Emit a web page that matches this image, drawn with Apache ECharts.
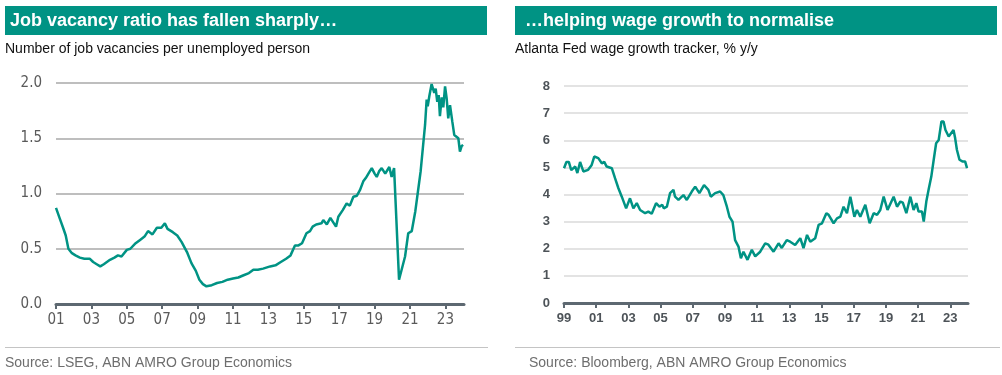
<!DOCTYPE html>
<html>
<head>
<meta charset="utf-8">
<script src="https://cdn.jsdelivr.net/npm/echarts@6/dist/echarts.min.js"></script>
<style>
  html, body { margin: 0; padding: 0; background: #fff; }
  #chart { width: 1002px; height: 375px; }
</style>
</head>
<body>
<div id="chart"></div>
<script>
// left panel: job vacancies per unemployed person (decimal years)
var vacYears = [
  2001.0, 2001.2, 2001.4, 2001.55, 2001.7, 2001.9, 2002.1, 2002.35, 2002.6, 2002.9,
  2003.1, 2003.3, 2003.5, 2003.7, 2004.05, 2004.3, 2004.5, 2004.7, 2005.0, 2005.2,
  2005.5, 2005.75, 2006.0, 2006.2, 2006.45, 2006.7, 2006.95, 2007.15, 2007.3, 2007.6,
  2007.85, 2008.1, 2008.4, 2008.65, 2008.9, 2009.1, 2009.3, 2009.5, 2009.8, 2010.1,
  2010.4, 2010.7, 2011.0, 2011.3, 2011.6, 2011.9, 2012.15, 2012.4, 2012.7, 2013.1,
  2013.4, 2013.7, 2014.0, 2014.25, 2014.5, 2014.7, 2014.9, 2015.15, 2015.35, 2015.5,
  2015.7, 2016.0, 2016.1, 2016.3, 2016.5, 2016.7, 2016.82, 2016.95, 2017.2, 2017.42,
  2017.6, 2017.8, 2018.0, 2018.17, 2018.36, 2018.5, 2018.65, 2018.84, 2019.0, 2019.12,
  2019.25, 2019.4, 2019.6, 2019.83, 2019.96, 2020.1, 2020.2, 2020.38, 2020.72, 2020.9,
  2021.1, 2021.3, 2021.45, 2021.6, 2021.85, 2021.94, 2022.0, 2022.09, 2022.22, 2022.37,
  2022.45, 2022.54, 2022.62, 2022.69, 2022.79, 2022.88, 2022.98, 2023.07, 2023.16, 2023.26,
  2023.39, 2023.5, 2023.73, 2023.82, 2023.92, 2024.0
];
var vacRatio = [
  0.87, 0.78, 0.69, 0.62, 0.50, 0.46, 0.44, 0.42, 0.41, 0.41,
  0.38, 0.36, 0.34, 0.36, 0.40, 0.42, 0.44, 0.43, 0.49, 0.50,
  0.55, 0.58, 0.61, 0.66, 0.63, 0.69, 0.69, 0.73, 0.68, 0.65,
  0.62, 0.56, 0.47, 0.37, 0.30, 0.22, 0.18, 0.16, 0.17, 0.19,
  0.20, 0.22, 0.23, 0.24, 0.26, 0.28, 0.31, 0.31, 0.32, 0.34,
  0.35, 0.38, 0.41, 0.44, 0.53, 0.53, 0.55, 0.64, 0.66, 0.70,
  0.72, 0.73, 0.76, 0.72, 0.78, 0.73, 0.70, 0.79, 0.85, 0.91,
  0.89, 0.97, 0.98, 1.03, 1.11, 1.14, 1.18, 1.23, 1.18, 1.15,
  1.20, 1.23, 1.18, 1.24, 1.15, 1.23, 1.22, 0.22, 0.43, 0.64,
  0.66, 0.84, 1.02, 1.20, 1.62, 1.85, 1.79, 1.88, 1.99, 1.91,
  1.95, 1.83, 1.89, 1.70, 1.87, 1.78, 1.97, 1.86, 1.68, 1.80,
  1.65, 1.53, 1.50, 1.38, 1.43, 1.44
];

// right panel: Atlanta Fed wage growth tracker, % y/y
var wageYears = [
  1999.0, 1999.15, 1999.3, 1999.45, 1999.55, 1999.7, 1999.83, 2000.0, 2000.2, 2000.5,
  2000.72, 2000.88, 2001.0, 2001.13, 2001.35, 2001.5, 2001.65, 2001.97, 2002.17, 2002.38,
  2002.59, 2002.86, 2003.1, 2003.31, 2003.52, 2003.73, 2004.04, 2004.24, 2004.45, 2004.72,
  2004.93, 2005.1, 2005.2, 2005.39, 2005.59, 2005.8, 2005.9, 2006.11, 2006.42, 2006.63,
  2006.94, 2007.15, 2007.41, 2007.7, 2007.97, 2008.12, 2008.39, 2008.7, 2008.9, 2009.12,
  2009.28, 2009.47, 2009.63, 2009.84, 2009.99, 2010.15, 2010.26, 2010.4, 2010.67, 2010.88,
  2011.19, 2011.5, 2011.7, 2012.02, 2012.33, 2012.53, 2012.84, 2013.05, 2013.36, 2013.68,
  2013.88, 2014.1, 2014.3, 2014.61, 2014.82, 2015.03, 2015.3, 2015.44, 2015.75, 2015.96,
  2016.17, 2016.37, 2016.58, 2016.79, 2017.04, 2017.2, 2017.41, 2017.72, 2017.99, 2018.24,
  2018.45, 2018.65, 2018.86, 2019.1, 2019.48, 2019.69, 2019.9, 2020.05, 2020.27, 2020.52,
  2020.72, 2020.89, 2021.03, 2021.24, 2021.35, 2021.51, 2021.66, 2021.82, 2021.97, 2022.12,
  2022.28, 2022.45, 2022.58, 2022.7, 2022.8, 2022.9, 2023.0, 2023.2, 2023.3, 2023.41,
  2023.5, 2023.57, 2023.75, 2023.92, 2024.04
];
var wageGrowth = [
  4.97, 5.2, 5.2, 4.9, 4.85, 5.03, 4.79, 5.2, 4.85, 4.91,
  5.09, 5.40, 5.38, 5.34, 5.15, 5.2, 5.03, 4.97, 4.6, 4.23,
  3.92, 3.49, 3.86, 3.49, 3.68, 3.43, 3.31, 3.37, 3.29, 3.68,
  3.55, 3.62, 3.49, 3.55, 4.05, 4.17, 3.92, 3.80, 3.98, 3.80,
  4.11, 4.29, 4.05, 4.35, 4.17, 3.92, 4.05, 4.11, 3.98, 3.55,
  3.18, 3.0, 2.32, 2.08, 1.65, 1.89, 1.87, 1.59, 1.96, 1.72,
  1.89, 2.20, 2.15, 1.89, 2.2, 2.03, 2.32, 2.26, 2.14, 2.39,
  2.02, 2.51, 2.26, 2.39, 2.88, 2.94, 3.31, 3.25, 2.94, 3.12,
  3.18, 3.55, 3.31, 3.92, 3.18, 3.43, 3.18, 3.62, 2.94, 3.31,
  3.25, 3.43, 3.92, 3.43, 3.92, 3.55, 3.74, 3.7, 3.31, 3.92,
  3.43, 3.68, 3.37, 3.37, 3.0, 3.74, 4.20, 4.66, 5.28, 5.89,
  6.01, 6.69, 6.69, 6.38, 6.40, 6.14, 6.08, 6.38, 6.08, 5.65,
  5.7, 5.28, 5.22, 5.22, 4.97
];

var leftTicks = [0, 2, 4, 6, 8, 10, 12, 14, 16, 18, 20, 22];           // 01..23
var rightTicks = [0, 2, 4, 6, 8, 10, 12, 14, 16, 18, 20, 22, 24];      // 99..23
var leftStart = 2001, rightStart = 1999;

var teal = '#009384';
var axisDark = '#5d6871';
var narrow = "'Liberation Sans Narrow', 'DejaVu Sans Condensed', 'Liberation Sans', sans-serif";
var sans = '"Liberation Sans", Arial, sans-serif';

function yy(v) {
  var s = String(Math.round(v) % 100);
  return s.length < 2 ? '0' + s : s;
}

function pairs(xs, ys, start) {
  return xs.map(function (x, i) { return [x - start, ys[i]]; });
}

var chart = echarts.init(document.getElementById('chart'));

chart.setOption({
  animation: false,
  grid: [
    { left: 56, right: 538, top: 83, bottom: 71 },
    { left: 564, right: 34, top: 86, bottom: 72 }
  ],
  xAxis: [
    {
      gridIndex: 0, type: 'value', min: 0, max: 23.05,
      axisLine: { lineStyle: { color: axisDark, width: 3 } },
      axisTick: { customValues: leftTicks, length: 5, lineStyle: { color: axisDark, width: 2 } },
      axisLabel: {
        customValues: leftTicks, margin: 9,
        fontFamily: narrow, fontSize: 15, color: '#5a5a5a',
        formatter: function (v) { return yy(leftStart + v); }
      },
      splitLine: { show: false }
    },
    {
      gridIndex: 1, type: 'value', min: 0, max: 25.1,
      axisLine: { lineStyle: { color: axisDark, width: 3 } },
      axisTick: { customValues: rightTicks, length: 5, lineStyle: { color: axisDark, width: 2 } },
      axisLabel: {
        customValues: rightTicks, margin: 9,
        fontFamily: sans, fontSize: 13, fontWeight: 'bold', color: '#4d5358',
        formatter: function (v) { return yy(rightStart + v); }
      },
      splitLine: { show: false }
    }
  ],
  yAxis: [
    {
      gridIndex: 0, type: 'value', min: 0, max: 2, interval: 0.5,
      axisLine: { show: false }, axisTick: { show: false },
      axisLabel: {
        margin: 14, fontFamily: narrow, fontSize: 15, color: '#5a5a5a',
        formatter: function (v) { return v.toFixed(1); }
      },
      splitLine: { lineStyle: { color: '#a8a8a8', width: 1.5 } }
    },
    {
      gridIndex: 1, type: 'value', min: 0, max: 8, interval: 1,
      axisLine: { show: false }, axisTick: { show: false },
      axisLabel: {
        margin: 14, fontFamily: sans, fontSize: 13, fontWeight: 'bold', color: '#4d5358'
      },
      splitLine: { lineStyle: { color: '#e3e3e3', width: 2 } }
    }
  ],
  series: [
    {
      type: 'line', xAxisIndex: 0, yAxisIndex: 0,
      data: pairs(vacYears, vacRatio, leftStart),
      showSymbol: false, lineStyle: { color: teal, width: 2.5 }
    },
    {
      type: 'line', xAxisIndex: 1, yAxisIndex: 1,
      data: pairs(wageYears, wageGrowth, rightStart),
      showSymbol: false, lineStyle: { color: teal, width: 2.5 }
    }
  ],
  graphic: [
    { type: 'rect', shape: { x: 5, y: 6, width: 482, height: 29 }, style: { fill: teal } },
    { type: 'rect', shape: { x: 515, y: 6, width: 482, height: 29 }, style: { fill: teal } },
    {
      type: 'text', x: 10, y: 21,
      style: { text: 'Job vacancy ratio has fallen sharply…', fill: '#fff',
        font: 'bold 18px ' + sans, verticalAlign: 'middle' }
    },
    {
      type: 'text', x: 525, y: 21,
      style: { text: '…helping wage growth to normalise', fill: '#fff',
        font: 'bold 18px ' + sans, verticalAlign: 'middle' }
    },
    {
      type: 'text', x: 5, y: 49,
      style: { text: 'Number of job vacancies per unemployed person', fill: '#111',
        font: '14px ' + sans, verticalAlign: 'middle' }
    },
    {
      type: 'text', x: 515, y: 49,
      style: { text: 'Atlanta Fed wage growth tracker, % y/y', fill: '#111',
        font: '14px ' + sans, verticalAlign: 'middle' }
    },
    { type: 'line', shape: { x1: 5, y1: 347.5, x2: 488, y2: 347.5 }, style: { stroke: '#c4c4c4', lineWidth: 1 } },
    { type: 'line', shape: { x1: 515, y1: 347.5, x2: 1000, y2: 347.5 }, style: { stroke: '#c4c4c4', lineWidth: 1 } },
    {
      type: 'text', x: 5, y: 363,
      style: { text: 'Source: LSEG, ABN AMRO Group Economics', fill: '#6e6e6e',
        font: '14px ' + sans, verticalAlign: 'middle' }
    },
    {
      type: 'text', x: 529, y: 363,
      style: { text: 'Source: Bloomberg, ABN AMRO Group Economics', fill: '#6e6e6e',
        font: '14px ' + sans, verticalAlign: 'middle' }
    }
  ]
});
</script>
</body>
</html>
